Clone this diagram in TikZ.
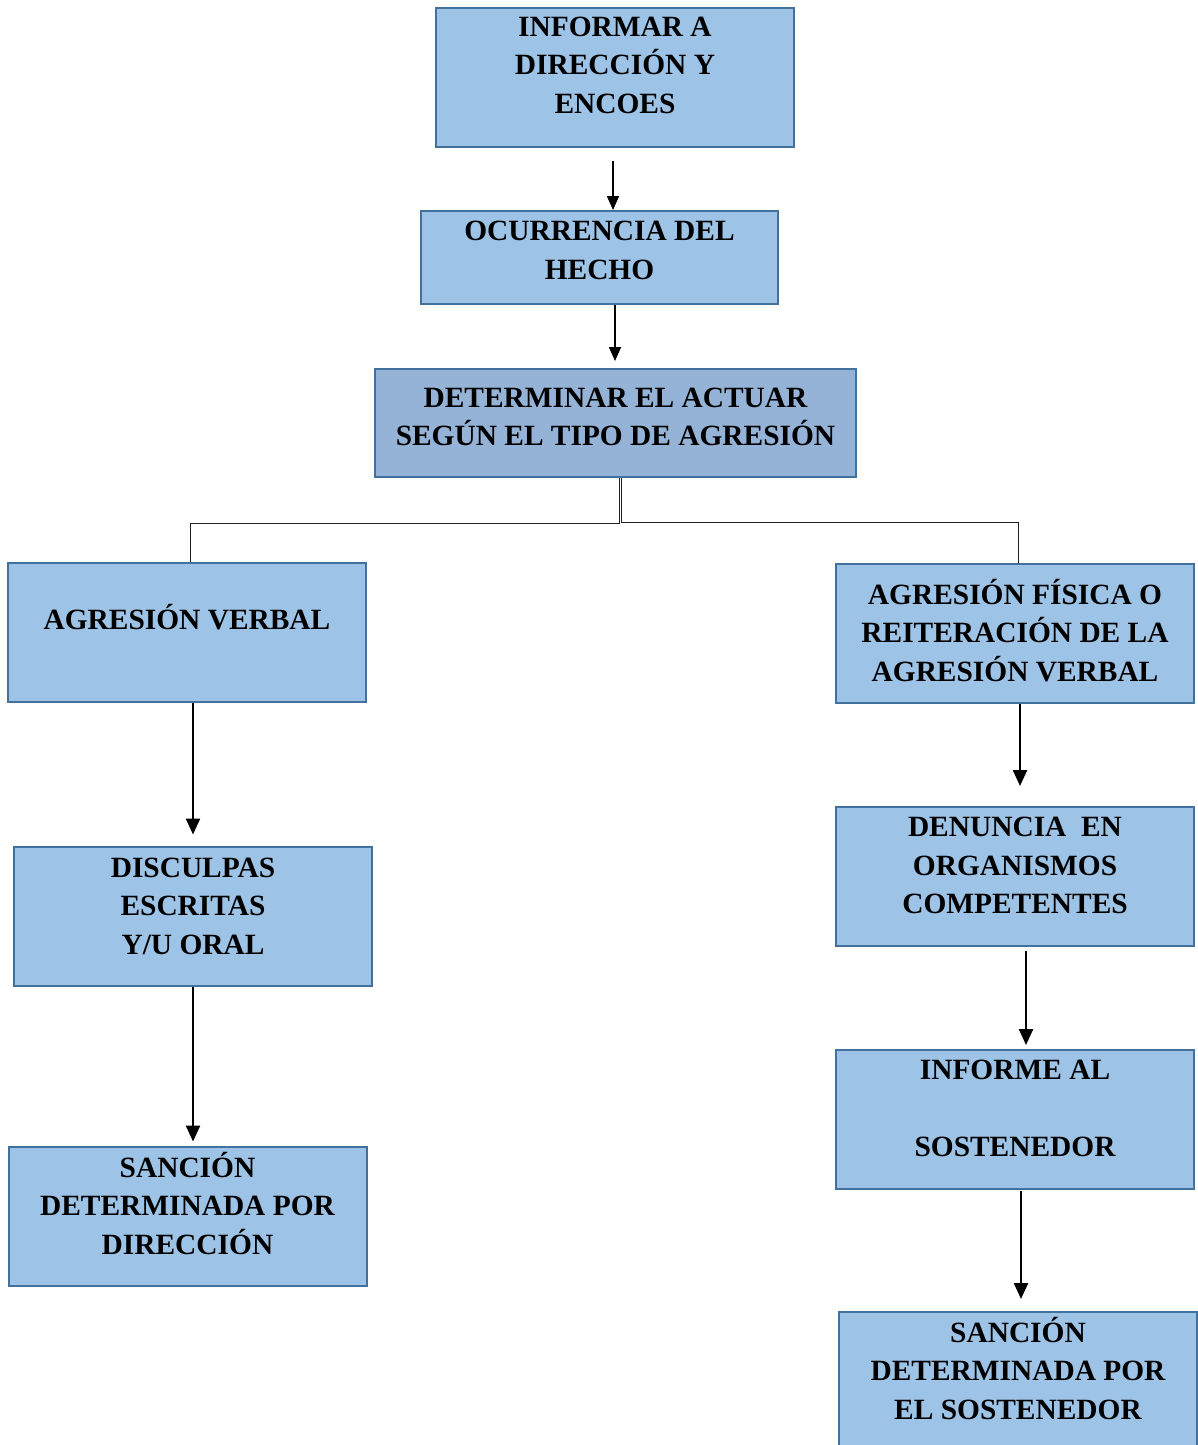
\documentclass[tikz,border=0pt]{standalone}
\usepackage{fontspec}
\setmainfont{Liberation Serif}
\usetikzlibrary{arrows.meta, positioning}
\usepackage{xcolor}
\definecolor{boxbg}{RGB}{157,195,230}
\definecolor{boxbgdark}{RGB}{149,179,215}
\definecolor{boxbd}{RGB}{65,113,156}
\definecolor{linecol}{RGB}{30,30,30}

\begin{document}
\begin{tikzpicture}[
    x=0.5pt, y=-0.5pt,
    box/.style    = {rectangle, fill=boxbg, draw=boxbd, line width=1pt,
                     minimum width=179pt, minimum height=69.5pt,
                     align=center, inner sep=0pt, text depth=11pt,
                     font=\bfseries\fontsize{14.7}{19.25}\selectfont},
    arrow/.style  = {-{Triangle[length=8pt,width=7pt]}, line width=1.2pt,
                     color=black},
    thinarrow/.style = {-{Triangle[length=7pt,width=6pt]}, line width=0.8pt,
                     color=black},
    fork/.style   = {line width=0.5pt, color=linecol},
]
\useasboundingbox (0,0) rectangle (1198,1445);

% ── Top chain ───────────────────────────────────────────────
\node[box, text depth=12.5pt] (inf) at (615,77.5)
    {INFORMAR A\\DIRECCIÓN Y\\ENCOES};
\node[box, minimum width=178.5pt, minimum height=46.5pt, text depth=7pt]
    (ocu) at (599.5,257.5)
    {OCURRENCIA DEL\\HECHO};
\node[box, fill=boxbgdark, minimum width=240.5pt, minimum height=54pt,
      text depth=6pt] (det) at (615.5,423)
    {DETERMINAR EL ACTUAR\\SEGÚN EL TIPO DE AGRESIÓN};

\draw[thinarrow, shorten <=6.5pt] ([xshift=-1pt]inf.south)
    -- ([xshift=-1pt]inf.south |- ocu.north);
\draw[thinarrow, shorten >=3.5pt] ([xshift=7.75pt]ocu.south)
    -- ([xshift=7.75pt]ocu.south |- det.north);

% ── Left branch ─────────────────────────────────────────────
\node[box, text depth=16pt] (verbal) at (187,632.5)
    {AGRESIÓN VERBAL};
\node[box, text depth=10pt] (disc) at (193,916)
    {DISCULPAS\\ESCRITAS\\Y/U ORAL};
\node[box, text depth=13pt] (sanc1) at (187.5,1216)
    {SANCIÓN\\DETERMINADA POR\\DIRECCIÓN};

\draw[arrow, shorten >=5.5pt] ([xshift=3pt]verbal.south)
    -- ([xshift=3pt]verbal.south |- disc.north);
\draw[arrow, shorten >=2pt] (disc.south) -- (disc.south |- sanc1.north);

% ── Right branch ────────────────────────────────────────────
\node[box, text depth=3.5pt] (fisica) at (1015,633.5)
    {AGRESIÓN FÍSICA O\\REITERACIÓN DE LA\\AGRESIÓN VERBAL};
\node[box] (denu) at (1015,876.5)
    {DENUNCIA\ \ EN\\ORGANISMOS\\COMPETENTES};
\node[box] (infsost) at (1015,1119.5)
    {INFORME AL\\[19.25pt]SOSTENEDOR};
\node[box, text depth=13.5pt] (sanc2) at (1018,1381.5)
    {SANCIÓN\\DETERMINADA POR\\EL SOSTENEDOR};

\draw[arrow, shorten >=10pt] ([xshift=2.5pt]fisica.south)
    -- ([xshift=2.5pt]fisica.south |- denu.north);
\draw[arrow, shorten <=2pt, shorten >=2pt] ([xshift=5.5pt]denu.south)
    -- ([xshift=5.5pt]denu.south |- infsost.north);
\draw[arrow, shorten <=0.5pt, shorten >=6pt] ([xshift=3pt]infsost.south)
    -- ([xshift=3pt]infsost.south |- sanc2.north);

% ── Fork from the decision box ──────────────────────────────
\draw[fork] ([xshift=1.75pt]det.south) -- ++(0,-22.5pt)
    -| ([xshift=1.5pt]verbal.north);
\draw[fork] ([xshift=2.75pt]det.south) -- ++(0,-22pt)
    -| ([xshift=1.5pt]fisica.north);

\end{tikzpicture}
\end{document}
